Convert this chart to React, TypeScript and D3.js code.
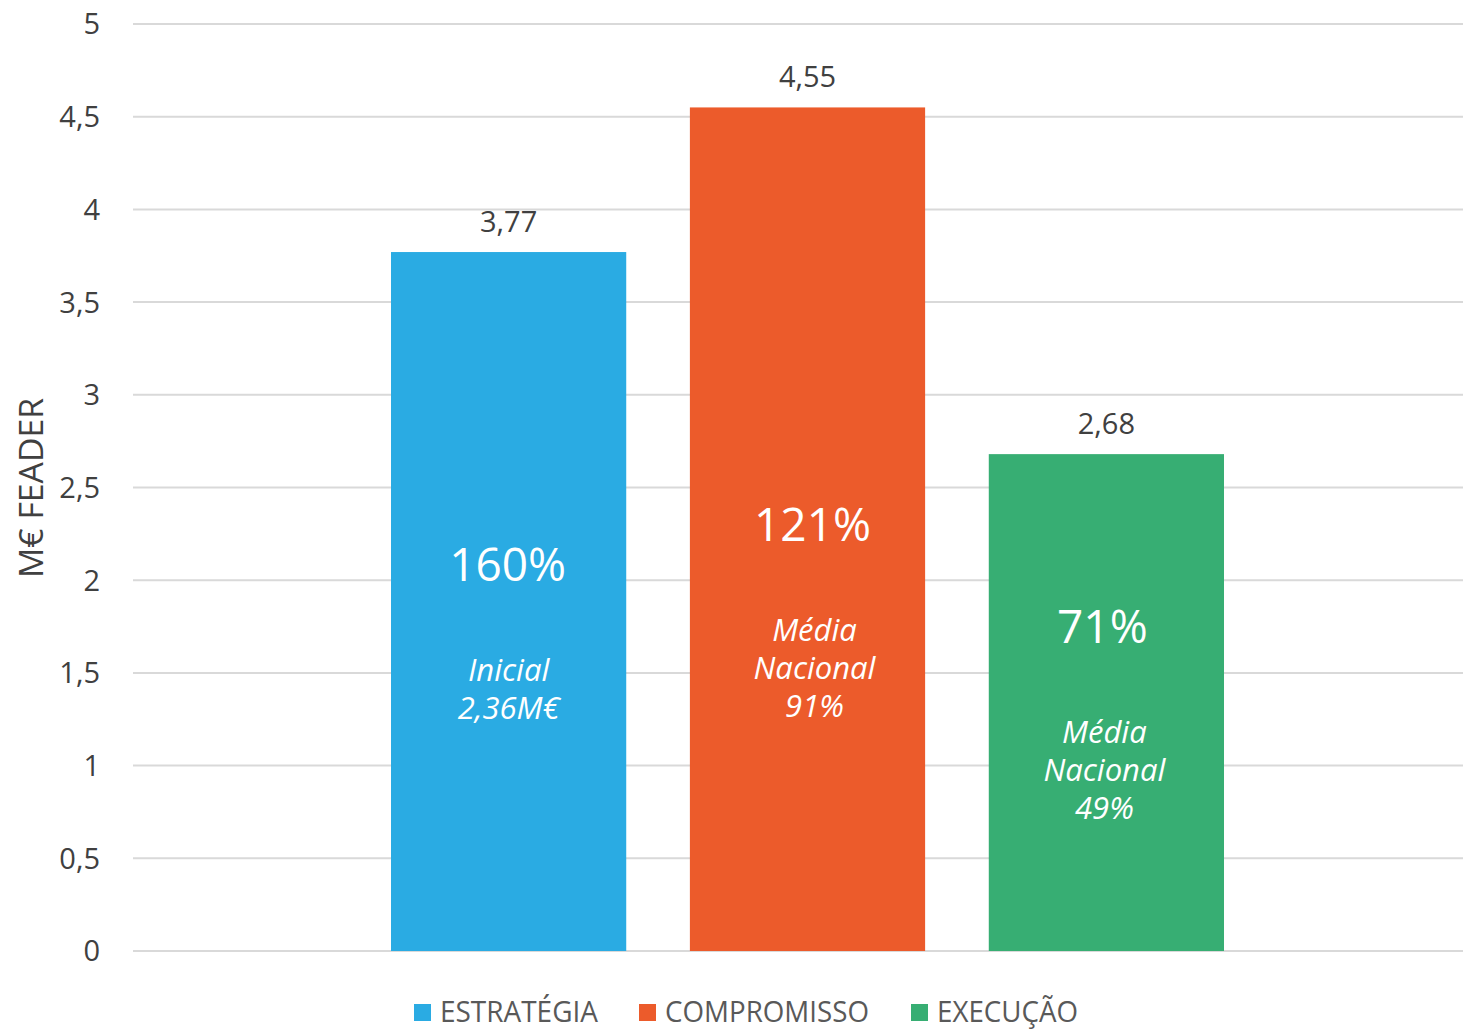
import * as d3 from 'd3';
import React from 'react';

// data
const series = ['ESTRATÉGIA', 'COMPROMISSO', 'EXECUÇÃO'];
const values = [3.77, 4.55, 2.68];
const valueLabels = ['3,77', '4,55', '2,68'];
const percentLabels = ['160%', '121%', '71%'];
const noteLines = [['Inicial', '2,36M€'], ['Média', 'Nacional', '91%'], ['Média', 'Nacional', '49%']];
const yTicks = [0, 0.5, 1, 1.5, 2, 2.5, 3, 3.5, 4, 4.5, 5];
const colors = ['#2AABE3', '#EC5B2B', '#37AE73'];

const W = 1463;
const H = 1031;
const font = '"Open Sans", "Noto Sans", sans-serif';

export default function App() {
	const margin = { top: 24, left: 133, bottom: 80 };

	const y = d3.scaleLinear()
		.domain([0, 5])
		.range([H - margin.bottom, margin.top]);

	const x = d3.scaleBand()
		.domain(series)
		.range([391, 1224])
		.paddingInner(0.213)
		.paddingOuter(0);

	const fmt = (t: number) => String(t).replace('.', ',');

	// where the in-bar annotation sits (in value units) + small horizontal nudges
	const pctAt = [2.08, 2.3, 1.75];
	const pctDx = [-1, 5, -4];
	const noteDx = [0, 7, -2];

	const legendX = [414, 639, 911];
	const legendW = [158, 204, 141];

	return (
		<div style={{ position: 'absolute', left: 0, top: 0 }}>
			<svg width={W} height={H} style={{ display: 'block', fontFamily: font }}>
				<rect width={W} height={H} fill="#fff" />
				{yTicks.map(t => (
					<g key={t}>
						<line x1={margin.left} x2={W} y1={y(t)} y2={y(t)} stroke="#d9d9d9" strokeWidth={2} />
						<text x={100} y={y(t)} dy="0.36em" textAnchor="end" fontSize={29} fill="#404040">{fmt(t)}</text>
					</g>
				))}
				<text transform={`translate(43, ${488}) rotate(-90)`} textAnchor="middle" fontSize={33} fill="#404040" textLength={180} lengthAdjust="spacingAndGlyphs">M€ FEADER</text>

				{series.map((s, i) => {
					const bx = x(s)!;
					const cx = bx + x.bandwidth() / 2;
					const pctY = y(pctAt[i]);
					return (
						<g key={s}>
							<rect x={bx} y={y(values[i])} width={x.bandwidth()} height={y(0) - y(values[i])} fill={colors[i]} />
							<text x={cx} y={y(values[i]) - 20} textAnchor="middle" fontSize={29} fill="#404040">{valueLabels[i]}</text>
							<text x={cx + pctDx[i]} y={pctY + 16} textAnchor="middle" fontSize={46} fill="#fff">{percentLabels[i]}</text>
							{noteLines[i].map((ln, j) => (
								<text key={j} x={cx + noteDx[i]} y={pctY + 116 + j * 38} textAnchor="middle" fontSize={31} fontStyle="italic" fill="#fff">{ln}</text>
							))}
						</g>
					);
				})}

				{series.map((s, i) => (
					<g key={'lg' + s}>
						<rect x={legendX[i]} y={1004} width={17} height={17} fill={colors[i]} />
						<text x={legendX[i] + 26} y={1022} fontSize={29} fill="#595959" textLength={legendW[i]} lengthAdjust="spacingAndGlyphs">{s}</text>
					</g>
				))}
			</svg>
		</div>
	);
}
